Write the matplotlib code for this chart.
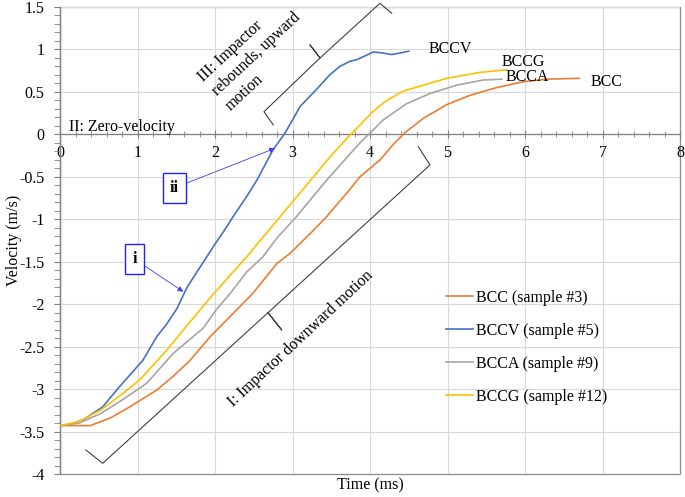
import matplotlib
matplotlib.use("Agg")
import matplotlib.pyplot as plt
from matplotlib.patches import Rectangle
from matplotlib.ticker import MultipleLocator, FuncFormatter

# values (time in ms, velocity in m/s)
bcc_t = [0, 0.39, 0.65, 0.90, 1.25, 1.46, 1.68, 1.94, 2.19, 2.49, 2.80, 2.97,
         3.27, 3.44, 3.72, 3.87, 4.13, 4.30, 4.45, 4.69, 4.99, 5.29, 5.63,
         5.98, 6.28, 6.70]
bcc_v = [-3.43, -3.43, -3.34, -3.21, -3.01, -2.85, -2.66, -2.38, -2.15, -1.87,
         -1.52, -1.40, -1.13, -0.97, -0.67, -0.50, -0.30, -0.12, 0.02, 0.19,
         0.35, 0.46, 0.55, 0.62, 0.65, 0.66]

bccv_t = [0, 0.15, 0.30, 0.55, 0.77, 1.07, 1.25, 1.38, 1.51, 1.64, 1.81,
          1.98, 2.15, 2.24, 2.41, 2.54, 2.75, 2.90, 3.10, 3.31, 3.48, 3.61,
          3.74, 3.83, 3.95, 4.04, 4.15, 4.28, 4.40, 4.50]
bccv_v = [-3.43, -3.41, -3.36, -3.21, -2.97, -2.66, -2.38, -2.23, -2.05,
          -1.80, -1.56, -1.32, -1.09, -0.96, -0.73, -0.54, -0.18, 0.01, 0.33,
          0.53, 0.70, 0.80, 0.86, 0.88, 0.93, 0.97, 0.96, 0.94, 0.96, 0.98]

bcca_t = [0, 0.25, 0.52, 0.80, 1.12, 1.46, 1.85, 2.02, 2.19, 2.41, 2.62, 2.80,
          3.05, 3.44, 3.87, 4.04, 4.17, 4.47, 4.77, 5.12, 5.46, 5.70]
bcca_v = [-3.43, -3.40, -3.29, -3.13, -2.93, -2.58, -2.28, -2.06, -1.88, -1.62,
          -1.44, -1.22, -0.97, -0.54, -0.10, 0.05, 0.17, 0.36, 0.48, 0.58,
          0.64, 0.65]

bccg_t = [0, 0.25, 0.52, 0.80, 1.03, 1.38, 1.64, 1.98, 2.41, 2.84, 3.27, 3.48,
          3.70, 4.04, 4.20, 4.43, 4.99, 5.42, 5.76]
bccg_v = [-3.43, -3.38, -3.25, -3.06, -2.89, -2.54, -2.25, -1.88, -1.44, -0.97,
          -0.50, -0.27, -0.05, 0.27, 0.39, 0.51, 0.66, 0.73, 0.76]

series_names = ["BCC (sample #3)", "BCCV (sample #5)", "BCCA (sample #9)",
                "BCCG (sample #12)"]
end_labels = ["BCC", "BCCV", "BCCA", "BCCG"]

plt.rcParams["font.family"] = ["Liberation Serif", "DejaVu Serif"]
plt.rcParams["font.size"] = 11.5
plt.rcParams["axes.unicode_minus"] = False

fig = plt.figure(figsize=(6.85, 4.97), dpi=100)
ax = fig.add_axes([60 / 685, 23 / 497, 620 / 685, 467 / 497])

colors = ["#ED7D31", "#4472C4", "#A5A5A5", "#FFC000"]
data = [(bcc_t, bcc_v), (bccv_t, bccv_v), (bcca_t, bcca_v), (bccg_t, bccg_v)]
for (t, v), c, name in zip(data, colors, series_names):
    ax.plot(t, v, color=c, lw=1.2, label=name, zorder=3)

ax.set_xlim(0, 8)
ax.set_ylim(-4, 1.5)
ax.xaxis.set_major_locator(MultipleLocator(1))
ax.xaxis.set_minor_locator(MultipleLocator(0.2))
ax.yaxis.set_major_locator(MultipleLocator(0.5))
ax.yaxis.set_minor_locator(MultipleLocator(0.1))
ax.yaxis.set_major_formatter(FuncFormatter(lambda v, p: f"{v:g}"))
ax.xaxis.set_major_formatter(FuncFormatter(lambda v, p: f"{v:g}"))
ax.grid(True, which="major", color="#d9d9d9", lw=0.8, zorder=0)

# axis line through zero, plot-area border around everything
ax.spines["bottom"].set_position(("data", 0))
for s in ["top", "right"]:
    ax.spines[s].set_visible(False)
for s in ["left", "bottom"]:
    ax.spines[s].set_color("#7f7f7f")
    ax.spines[s].set_linewidth(0.9)
ax.add_patch(Rectangle((0, 0), 1, 1, transform=ax.transAxes, fill=False,
                       ec="#8c8c8c", lw=0.9, clip_on=False, zorder=1))
ax.tick_params(axis="x", which="both", direction="inout", color="#7f7f7f",
               pad=5)
ax.tick_params(axis="x", which="major", length=6)
ax.tick_params(axis="x", which="minor", length=4)
ax.tick_params(axis="y", which="both", direction="out", color="#7f7f7f",
               length=4, pad=7)

ax.set_ylabel("Velocity (m/s)")
ax.yaxis.set_label_coords(-0.062, 0.5)
ax.set_xlabel("Time (ms)")
ax.xaxis.set_label_coords(0.5, -0.008)

ax.legend(loc="upper left", bbox_to_anchor=(0.6226, 0.395), frameon=False,
          borderpad=0, borderaxespad=0, handlelength=1.7, handletextpad=0.2,
          labelspacing=1.07)

# curve end labels
ax.text(4.76, 0.962, end_labels[1], va="baseline")
ax.text(5.70, 0.806, end_labels[3], va="baseline")
ax.text(5.75, 0.625, end_labels[2], va="baseline")
ax.text(6.85, 0.574, end_labels[0], va="baseline")

# phase annotations
ax.text(0.116, 0.044, "II: Zero-velocity", va="baseline")
ax.text(3.107, -2.41, "I: Impactor downward motion", rotation=43,
        ha="center", va="center", rotation_mode="anchor")
ax.text(2.53, 0.94, "III: Impactor\nrebounds, upward\nmotion", rotation=43,
        ha="center", va="center", multialignment="left",
        rotation_mode="anchor", linespacing=1.35)

brace_kw = dict(color="#404040", lw=0.8, clip_on=False, zorder=2)
ax.plot([0.335, 0.551, 2.684, 2.861, 2.684, 4.774, 4.623],
        [-3.718, -3.874, -2.100, -2.304, -2.100, -0.360, -0.145], **brace_kw)
ax.plot([2.752, 2.632, 3.355, 3.226, 3.355, 4.129, 4.280],
        [0.111, 0.267, 0.900, 1.053, 0.900, 1.544, 1.426], **brace_kw)

# boxed markers with arrows
box = dict(boxstyle="square,pad=0.45", fc="white", ec="#2020ff", lw=1.0)
arrow = dict(arrowstyle="-|>", color="#3c3cff", lw=0.6, mutation_scale=8,
             shrinkA=0, shrinkB=0)
ax.annotate("ii", xy=(2.774, -0.164), xytext=(1.477, -0.631), ha="center",
            va="center", fontweight="bold", bbox=box, arrowprops=arrow,
            zorder=5)
ax.annotate("i", xy=(1.591, -1.853), xytext=(0.961, -1.469), ha="center",
            va="center", fontweight="bold", bbox=box, arrowprops=arrow,
            zorder=5)

fig.savefig("out.png", dpi=100)
